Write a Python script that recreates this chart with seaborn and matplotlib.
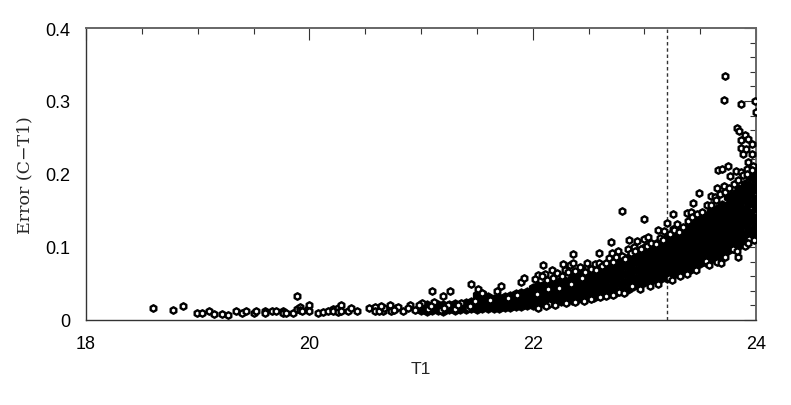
import numpy as np
import pandas as pd
import matplotlib
matplotlib.use("Agg")
import matplotlib.pyplot as plt
import seaborn as sns

# isolated stars
open_t1 = [18.60, 18.78, 18.87, 18.99, 19.04, 19.10, 19.15, 19.22, 19.27, 19.34, 19.40, 19.43, 19.50, 19.52,
           19.60, 19.60, 19.67, 19.70, 19.76, 19.76, 19.79, 19.85, 19.89, 19.89, 19.92, 19.92, 19.93, 19.99,
           20.00, 20.00, 20.08, 20.12, 20.17, 20.21, 20.21, 20.26, 20.26, 20.28, 20.28, 20.35, 20.37, 20.43,
           20.53, 20.59, 20.59, 20.66, 20.72, 20.78,
           21.10, 21.20, 21.26, 21.45, 21.51, 21.68, 21.72, 21.90, 21.92, 22.05, 22.09, 22.11, 22.15, 22.17,
           22.27, 22.29, 22.31, 22.33, 22.36, 22.36, 22.44, 22.49, 22.56, 22.59, 22.59, 22.52, 22.66, 22.68,
           22.70, 22.71, 22.76, 22.77, 22.80, 22.85, 22.86, 22.89, 22.91, 22.93, 22.96, 23.00, 23.00, 23.03,
           23.12, 23.18, 23.20, 23.22, 23.25, 23.26, 23.26, 23.29, 23.32, 23.38, 23.42, 23.44, 23.49, 23.55,
           23.60, 23.63, 23.65, 23.65, 23.66, 23.69, 23.70, 23.71, 23.71, 23.72, 23.75, 23.77, 23.79, 23.82,
           23.83, 23.84, 23.85, 23.87, 23.87, 23.87, 23.87, 23.88, 23.90, 23.90, 23.91, 23.92, 23.93, 23.93,
           23.94, 23.96, 23.96, 23.97, 23.99, 24.00]
open_err = [0.016, 0.014, 0.019, 0.010, 0.010, 0.012, 0.008, 0.008, 0.007, 0.012, 0.009, 0.013, 0.010, 0.012,
            0.012, 0.009, 0.013, 0.012, 0.012, 0.010, 0.009, 0.010, 0.033, 0.015, 0.018, 0.014, 0.013, 0.015,
            0.020, 0.012, 0.010, 0.011, 0.013, 0.015, 0.012, 0.016, 0.011, 0.020, 0.013, 0.012, 0.016, 0.012,
            0.017, 0.018, 0.012, 0.012, 0.020, 0.016,
            0.040, 0.033, 0.040, 0.049, 0.043, 0.040, 0.047, 0.052, 0.058, 0.062, 0.075, 0.063, 0.022, 0.068,
            0.077, 0.068, 0.062, 0.075, 0.090, 0.078, 0.070, 0.078, 0.077, 0.092, 0.078, 0.029, 0.033, 0.085,
            0.107, 0.092, 0.095, 0.038, 0.149, 0.097, 0.110, 0.047, 0.100, 0.108, 0.042, 0.138, 0.111, 0.114,
            0.123, 0.122, 0.133, 0.058, 0.055, 0.145, 0.125, 0.132, 0.060, 0.147, 0.148, 0.160, 0.174, 0.081,
            0.170, 0.168, 0.181, 0.079, 0.205, 0.078, 0.207, 0.184, 0.301, 0.334, 0.211, 0.197, 0.097, 0.204,
            0.263, 0.086, 0.259, 0.296, 0.247, 0.235, 0.203, 0.227, 0.253, 0.101, 0.234, 0.207, 0.248, 0.216,
            0.111, 0.241, 0.227, 0.211, 0.300, 0.285]

# stars sitting on the edges of the sequence and inside its thin part
edge_t1 = [22.02, 22.08, 22.13, 22.18, 22.22, 22.26, 22.32, 22.38, 22.42, 22.47, 22.52, 22.57, 22.62, 22.66,
           22.72, 22.75, 22.80, 22.83, 22.88, 22.92, 22.97, 23.02, 23.06, 23.10, 23.14, 23.17, 23.23, 23.27,
           23.31, 23.35, 23.39, 23.43, 23.47, 23.52, 23.56, 23.60, 23.64, 23.68, 23.72, 23.76, 23.80, 23.84,
           23.88, 23.92, 23.96,
           22.05, 22.12, 22.20, 22.30, 22.38, 22.46, 22.60, 22.72, 22.82, 23.05, 23.12, 23.38, 23.46, 23.58,
           23.72, 23.83, 23.93, 23.98,
           20.62, 20.67, 20.73, 20.79, 20.84, 20.90, 20.95, 21.01, 21.06, 21.12, 21.18, 21.24, 21.30, 21.36,
           21.42, 21.48, 20.64, 20.76, 20.88, 20.98, 21.09, 21.21, 21.33, 21.44, 21.55, 21.62, 21.78, 21.86,
           22.04, 22.14, 22.24, 22.34, 22.44]
edge_err = [0.056, 0.060, 0.055, 0.058, 0.064, 0.060, 0.066, 0.067, 0.073, 0.066, 0.070, 0.068, 0.074, 0.078,
            0.080, 0.086, 0.088, 0.083, 0.092, 0.094, 0.097, 0.102, 0.106, 0.104, 0.112, 0.110, 0.118, 0.123,
            0.121, 0.128, 0.135, 0.141, 0.145, 0.148, 0.158, 0.157, 0.165, 0.172, 0.176, 0.181, 0.186, 0.192,
            0.198, 0.200, 0.206,
            0.017, 0.019, 0.021, 0.023, 0.025, 0.026, 0.031, 0.034, 0.037, 0.047, 0.050, 0.063, 0.069, 0.075,
            0.086, 0.094, 0.105, 0.109,
            0.013, 0.017, 0.012, 0.018, 0.013, 0.021, 0.014, 0.023, 0.015, 0.024, 0.014, 0.021, 0.015, 0.023,
            0.016, 0.026, 0.019, 0.014, 0.017, 0.020, 0.019, 0.017, 0.020, 0.019, 0.037, 0.028, 0.030, 0.034,
            0.036, 0.042, 0.044, 0.050, 0.057]

# crowded part of the sequence, one row per level across the band
faint_t1 = [23.00, 23.05, 23.10, 23.15, 23.20, 23.25, 23.30, 23.35, 23.40, 23.45, 23.50,
            23.55, 23.60, 23.65, 23.70, 23.75, 23.80, 23.85, 23.90, 23.95, 24.00]
faint_a = [0.052, 0.054, 0.056, 0.058, 0.057, 0.062, 0.064, 0.066, 0.068, 0.072, 0.078,
           0.080, 0.083, 0.086, 0.090, 0.096, 0.099, 0.103, 0.107, 0.111, 0.116]
faint_b = [0.059, 0.061, 0.063, 0.065, 0.066, 0.070, 0.072, 0.074, 0.077, 0.081, 0.086,
           0.089, 0.092, 0.096, 0.100, 0.106, 0.110, 0.114, 0.118, 0.123, 0.128]
faint_c = [0.066, 0.068, 0.070, 0.072, 0.074, 0.078, 0.080, 0.083, 0.086, 0.090, 0.095,
           0.098, 0.102, 0.106, 0.110, 0.116, 0.120, 0.125, 0.130, 0.135, 0.140]
faint_d = [0.073, 0.074, 0.077, 0.079, 0.082, 0.086, 0.088, 0.091, 0.095, 0.099, 0.104,
           0.107, 0.111, 0.115, 0.120, 0.126, 0.131, 0.136, 0.141, 0.147, 0.153]
faint_e = [0.079, 0.081, 0.084, 0.086, 0.089, 0.094, 0.096, 0.099, 0.104, 0.108, 0.113,
           0.116, 0.120, 0.125, 0.130, 0.137, 0.141, 0.147, 0.152, 0.160, 0.166]
faint_f = [0.085, 0.087, 0.090, 0.093, 0.096, 0.102, 0.104, 0.107, 0.112, 0.117, 0.122,
           0.125, 0.130, 0.134, 0.140, 0.147, 0.152, 0.158, 0.164, 0.172, 0.179]
faint_g = [0.092, 0.094, 0.097, 0.100, 0.104, 0.110, 0.112, 0.115, 0.120, 0.126, 0.131,
           0.134, 0.139, 0.143, 0.149, 0.158, 0.162, 0.169, 0.175, 0.184, 0.192]
faint_h = [0.098, 0.100, 0.104, 0.108, 0.112, 0.118, 0.120, 0.122, 0.128, 0.134, 0.140,
           0.143, 0.148, 0.152, 0.158, 0.168, 0.172, 0.180, 0.186, 0.196, 0.204]

mid_t1 = [22.00, 22.05, 22.10, 22.15, 22.20, 22.25, 22.30, 22.35, 22.40, 22.45,
          22.50, 22.55, 22.60, 22.65, 22.70, 22.75, 22.80, 22.85, 22.90, 22.95]
mid_a = [0.021, 0.022, 0.023, 0.024, 0.025, 0.026, 0.027, 0.028, 0.029, 0.030,
         0.031, 0.032, 0.034, 0.035, 0.037, 0.039, 0.041, 0.043, 0.046, 0.049]
mid_b = [0.027, 0.028, 0.029, 0.030, 0.032, 0.033, 0.034, 0.036, 0.037, 0.038,
         0.040, 0.041, 0.043, 0.045, 0.047, 0.049, 0.051, 0.053, 0.056, 0.059]
mid_c = [0.033, 0.034, 0.036, 0.037, 0.039, 0.040, 0.042, 0.044, 0.045, 0.047,
         0.049, 0.050, 0.052, 0.055, 0.057, 0.059, 0.062, 0.064, 0.067, 0.070]
mid_d = [0.039, 0.040, 0.042, 0.044, 0.046, 0.047, 0.049, 0.052, 0.053, 0.055,
         0.058, 0.059, 0.062, 0.065, 0.067, 0.069, 0.072, 0.075, 0.078, 0.081]
mid_e = [0.044, 0.046, 0.048, 0.050, 0.052, 0.054, 0.056, 0.059, 0.060, 0.062,
         0.066, 0.068, 0.070, 0.073, 0.076, 0.078, 0.081, 0.085, 0.088, 0.092]

bright_t1 = [21.00, 21.05, 21.10, 21.15, 21.20, 21.25, 21.30, 21.35, 21.40, 21.45, 21.50,
             21.55, 21.60, 21.65, 21.70, 21.75, 21.80, 21.85, 21.90, 21.95]
bright_a = [0.014, 0.013, 0.014, 0.014, 0.013, 0.015, 0.014, 0.015, 0.015, 0.016, 0.015,
            0.016, 0.016, 0.017, 0.017, 0.018, 0.018, 0.019, 0.019, 0.020]
bright_b = [0.017, 0.018, 0.018, 0.019, 0.018, 0.019, 0.020, 0.020, 0.021, 0.021, 0.024,
            0.025, 0.024, 0.024, 0.024, 0.025, 0.026, 0.027, 0.028, 0.029]
bright_c = [0.018, 0.020, 0.019, 0.021, 0.020, 0.021, 0.022, 0.021, 0.023, 0.024, 0.034,
            0.035, 0.032, 0.029, 0.030, 0.032, 0.033, 0.035, 0.037, 0.039]

x_ticks = [18, 20, 22, 24]
y_ticks = [0, 0.1, 0.2, 0.3, 0.4]
y_tick_labels = ["0", "0.1", "0.2", "0.3", "0.4"]
cut_t1 = 23.2

sns.set_style("white")
plt.rcParams["font.family"] = ["Liberation Sans", "DejaVu Sans"]

core = pd.DataFrame({
    "t1": faint_t1 * 8 + mid_t1 * 5 + bright_t1 * 3,
    "err": faint_a + faint_b + faint_c + faint_d + faint_e + faint_f + faint_g + faint_h
           + mid_a + mid_b + mid_c + mid_d + mid_e + bright_a + bright_b + bright_c,
})
stars = pd.DataFrame({"t1": open_t1 + edge_t1, "err": open_err + edge_err})

fig = plt.figure(figsize=(7.91, 4.06), dpi=100)
ax = fig.add_axes([86 / 791, 1 - 321 / 406, 670 / 791, 292 / 406])

sns.scatterplot(data=core, x="t1", y="err", marker="h", s=46, color="black",
                edgecolor="black", linewidth=0.8, ax=ax, zorder=3)
sns.scatterplot(data=stars, x="t1", y="err", marker="h", s=22, color="white",
                edgecolor="black", linewidth=1.7, ax=ax, zorder=4)
ax.axvline(cut_t1, color="#333333", lw=1, ls=(0, (2.5, 2)), zorder=2)

ax.set_xlim(18, 24)
ax.set_ylim(0, 0.4)
ax.set_xticks(x_ticks)
ax.set_yticks(y_ticks)
ax.set_yticklabels(y_tick_labels)
ax.set_xticks(np.arange(18, 24.01, 0.5), minor=True)
ax.set_yticks(np.arange(0, 0.401, 0.02), minor=True)
ax.tick_params(axis="x", which="major", direction="in", length=8.5, width=0.8, color="#333333",
               top=True, labelsize=13, pad=11, labelcolor="black")
ax.tick_params(axis="y", which="major", direction="in", length=8.5, width=0.8, color="#333333",
               right=True, labelsize=13, pad=11, labelcolor="black")
ax.tick_params(which="minor", direction="in", length=4.5, width=0.8, color="#333333",
               top=True, right=True)

for side in ["top", "right", "left", "bottom"]:
    ax.spines[side].set_color("#333333")
    ax.spines[side].set_linewidth(1)
    ax.spines[side].set_visible(True)
ax.spines["top"].set_color("#666666")
ax.spines["top"].set_linewidth(1.4)
ax.spines["right"].set_color("#666666")
ax.spines["right"].set_linewidth(1.4)

ax.set_xlabel("T1", fontsize=12.5, labelpad=6)
ax.set_ylabel("Error (C\u2212T1)", fontsize=12.5, family="DejaVu Serif", labelpad=9)

fig.savefig("out.png", dpi=100)
